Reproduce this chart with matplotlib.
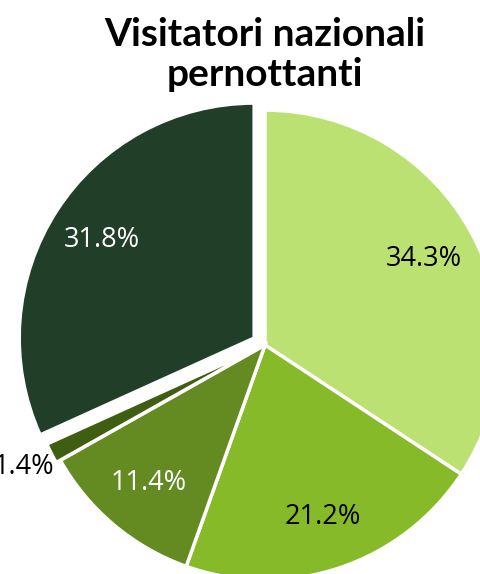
import matplotlib
matplotlib.use("Agg")
import matplotlib.pyplot as plt
import numpy as np

title = "Visitatori nazionali\npernottanti"
values = [34.3, 21.2, 11.4, 1.4, 31.8]
labels = ["34.3%", "21.2%", "11.4%", "1.4%", "31.8%"]
colors = ["#BCE173", "#87BA29", "#638B22", "#3F5E12", "#213E29"]
text_colors = ["black", "black", "white", "black", "white"]
explode = [0, 0, 0, 0.02, 0.055]

fig = plt.figure(figsize=(4.8, 5.74), dpi=100)
ax = fig.add_axes([0, 0, 1, 1])
wedges, _ = ax.pie(values, colors=colors, startangle=90, counterclock=False,
                   explode=explode, radius=1.0,
                   wedgeprops=dict(edgecolor="white", linewidth=2.5))
ax.set_xlim(-1.128, 0.915)
ax.set_ylim(-0.974, 1.468)
ax.set_aspect("equal")
ax.axis("off")

for w, lab, tc, ex, v in zip(wedges, labels, text_colors, explode, values):
    mid = np.deg2rad((w.theta1 + w.theta2) / 2)
    if v < 5:
        d = 1.13 + ex
    else:
        d = 0.77 + ex
    ax.text(d * np.cos(mid), d * np.sin(mid), lab, ha="center", va="center",
            color=tc, fontsize=19.5, family="Open Sans")

fig.text(0.552, 0.905, title, ha="center", va="center", fontsize=28,
         fontweight="bold", family="Lato", linespacing=1.15)

fig.savefig("out.png", dpi=100)
